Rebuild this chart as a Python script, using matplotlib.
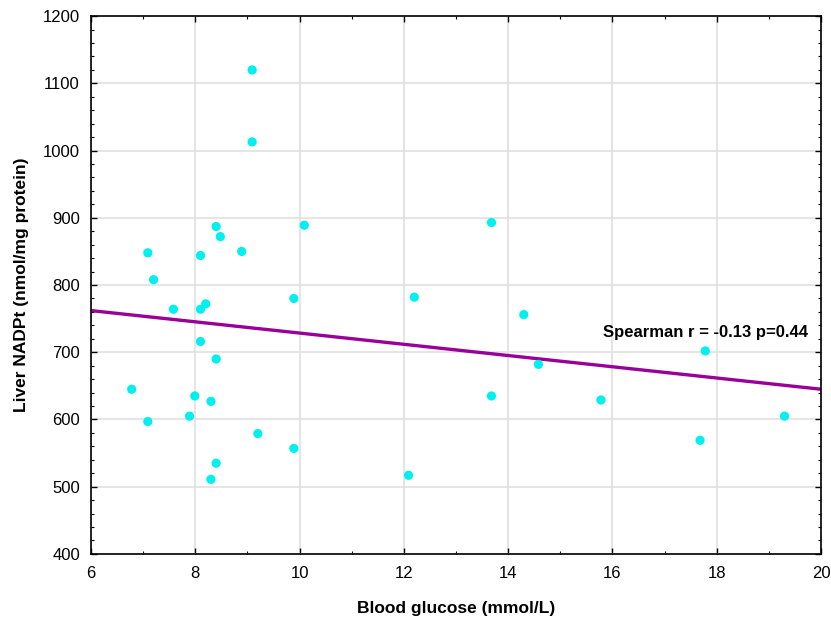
import numpy as np
import matplotlib.pyplot as plt

plt.rcParams['font.family'] = ['Liberation Sans', 'DejaVu Sans']

# Blood glucose (mmol/L) vs liver NADPt (nmol/mg protein)
glucose = [8.40, 8.48, 10.09, 7.09, 8.10, 8.89, 7.20, 7.58, 8.10, 8.20,
           9.89, 8.10, 8.40, 6.78, 7.99, 8.30, 7.09, 7.89, 9.20, 9.89,
           8.40, 8.30, 9.09, 9.09, 13.68, 12.20, 14.30, 17.78, 14.58, 13.68,
           15.78, 19.30, 17.68, 12.09]
nadpt = [887, 872, 889, 848, 844, 850, 808, 764, 764, 772,
         780, 716, 690, 645, 635, 627, 597, 605, 579, 557,
         535, 511, 1120, 1013, 893, 782, 756, 702, 682, 635,
         629, 605, 569, 517]

# regression line
fit_x = [6, 20]
fit_y = [762, 645]

fig = plt.figure(figsize=(8.31, 6.21), dpi=100)
ax = fig.add_axes([0.1095, 0.108, 0.8785, 0.866])

ax.grid(True, color='#e0e0e0', lw=1.2, zorder=0)
ax.plot(fit_x, fit_y, color='#990099', lw=2.4, zorder=2)
ax.scatter(glucose, nadpt, s=44, color='#00f0f0', edgecolors='none', zorder=3)

ax.set_xlim(6, 20)
ax.set_ylim(400, 1200)
ax.set_xticks(np.arange(6, 21, 2))
ax.set_xticks(np.arange(7, 20, 2), minor=True)
ax.set_yticks(np.arange(400, 1201, 100))
ax.set_yticks(np.arange(400, 1201, 20), minor=True)
ax.tick_params(which='both', direction='in', top=True, right=True, labelsize=12)
ax.tick_params(which='major', length=4, width=1)
ax.tick_params(which='minor', length=2, width=0.8)
ax.tick_params(axis='x', pad=9)
ax.tick_params(axis='y', pad=8)
for s in ax.spines.values():
    s.set_linewidth(1.2)

ax.set_xlabel('Blood glucose (mmol/L)', fontsize=12.5, fontweight='bold', labelpad=14)
ax.set_ylabel('Liver NADPt (nmol/mg protein)', fontsize=12.5, fontweight='bold', labelpad=10)

ax.text(19.75, 730, 'Spearman r = -0.13 p=0.44', fontsize=12, fontweight='bold',
        ha='right', va='center', zorder=4)

plt.savefig('out.png', dpi=100)
